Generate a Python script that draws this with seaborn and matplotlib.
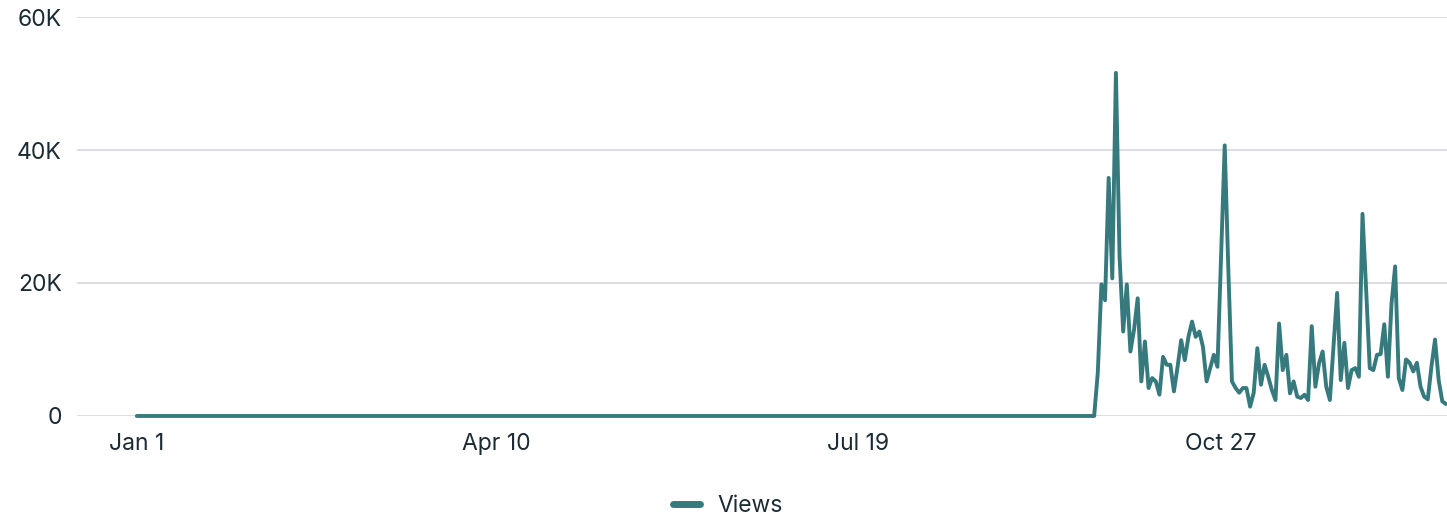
import matplotlib.pyplot as plt
import matplotlib.dates as mdates
from matplotlib.ticker import FuncFormatter
import seaborn as sns
import pandas as pd

# daily views, 2023 -- nothing until late September
start_date = "2023-01-01"
quiet_days = 264  # Jan 1 .. Sep 21 are all zero
views_from_sep22 = [
    0, 6500, 19800, 17400, 35800, 20700, 51600, 24000, 12700, 19800,
    9700, 13000, 17700, 5200, 11200, 4200, 5700, 5200, 3200, 8900,
    7700, 7700, 3700, 7400, 11400, 8400, 11900, 14200, 11900, 12700,
    10400, 5200, 7200, 9200, 7400, 24000, 40700, 22000, 5200, 4200,
    3500, 4200, 4200, 1400, 3500, 10200, 4700, 7700, 5900, 3900,
    2400, 13900, 6900, 9200, 3400, 5200, 2900, 2700, 3200, 2400,
    13500, 4400, 7900, 9700, 4400, 2400, 10400, 18500, 5400, 11000,
    4200, 6900, 7200, 5900, 30400, 19000, 7200, 6900, 9200, 9300,
    13800, 5900, 16900, 22500, 5700, 3900, 8500, 8000, 6700, 8000,
    4400, 2900, 2500, 7400, 11500, 5400, 2200, 1800,
]
views = [0] * quiet_days + views_from_sep22
dates = pd.date_range(start_date, periods=len(views), freq="D")
tick_dates = ["2023-01-01", "2023-04-10", "2023-07-19", "2023-10-27"]
y_ticks = [0, 20000, 40000, 60000]

df = pd.DataFrame({"date": dates, "Views": views})

line_color = "#367a7e"
text_color = "#1c2b33"

sns.set_style("white")
plt.rcParams["font.family"] = ["Inter", "DejaVu Sans"]

fig = plt.figure(figsize=(14.47, 5.22), dpi=100)
ax = fig.add_axes([0.0532, 0.2031, 0.9468, 0.7643])

sns.lineplot(data=df, x="date", y="Views", color=line_color, linewidth=2.8,
             ax=ax, label="Views", legend=False)
for ln in ax.lines:
    ln.set_clip_on(False)
    ln.set_solid_joinstyle("round")

ax.set_ylim(0, 60000)
ax.set_xlim(pd.Timestamp(start_date) - pd.Timedelta(days=16.5),
            pd.Timestamp(start_date) + pd.Timedelta(days=361.3))
ax.set_yticks(y_ticks)
ax.yaxis.set_major_formatter(FuncFormatter(lambda v, p: "0" if v == 0 else f"{int(v/1000)}K"))
ax.set_xticks(pd.to_datetime(tick_dates))
ax.xaxis.set_major_formatter(FuncFormatter(
    lambda v, p: mdates.num2date(v).strftime("%b ") + str(mdates.num2date(v).day)))

ax.grid(axis="y", color="#dadde1", linewidth=1.4)
ax.grid(axis="x", visible=False)
ax.set_axisbelow(True)
for s in ax.spines.values():
    s.set_visible(False)
ax.tick_params(axis="both", length=0, labelsize=16.5, labelcolor=text_color)
ax.tick_params(axis="y", pad=11)
ax.tick_params(axis="x", pad=12.5)
ax.set_xlabel("")
ax.set_ylabel("")

handle = plt.Line2D([], [], color=line_color, linewidth=5, solid_capstyle="round")
fig.legend([handle], ["Views"], loc="lower center", bbox_to_anchor=(0.503, -0.03),
           frameon=False, fontsize=16.5, handlelength=1.2, handletextpad=0.75,
           labelcolor=text_color)

fig.savefig("out.png", dpi=100)
